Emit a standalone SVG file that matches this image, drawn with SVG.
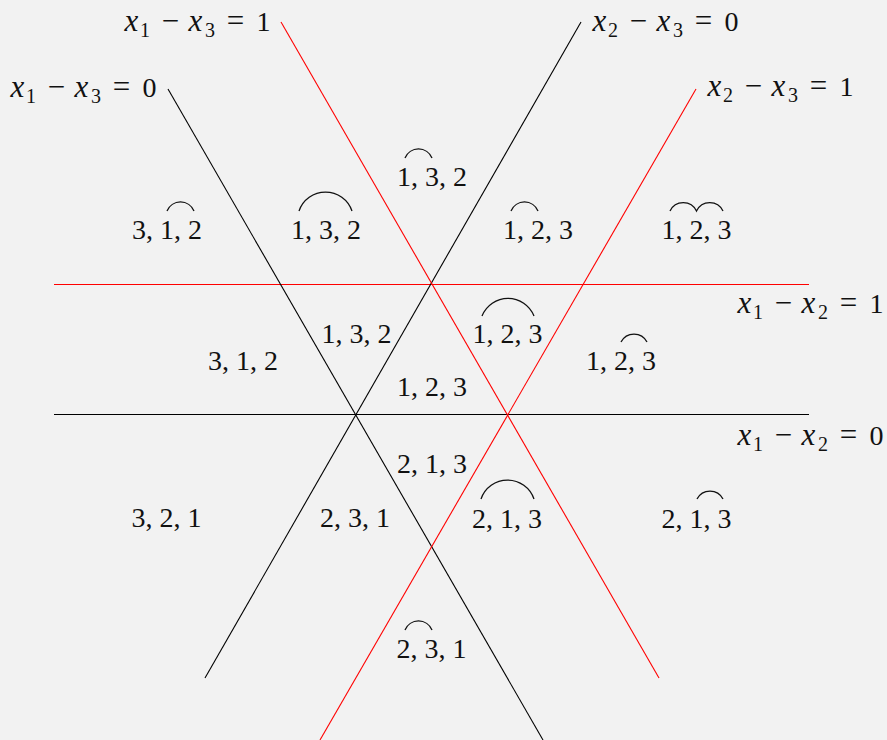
<svg xmlns="http://www.w3.org/2000/svg" width="887" height="740" viewBox="0 0 887 740">
<style>
.bg{fill:#f2f2f2}
.k{stroke:#000;stroke-width:1.1;fill:none}
.r{stroke:#ff0000;stroke-width:1.1;fill:none}
.lbl{font-size:28px;fill:#111;text-anchor:middle}
.eq{font-size:28px;fill:#111;text-anchor:middle}
.it{font-style:italic;font-size:31px}
.sub{font-size:20px}
.op{font-size:31px}
.arc{stroke:#111;stroke-width:1.3;fill:none}
</style>
<rect class="bg" x="0" y="0" width="887" height="740"/>
<g id="connectors">
<line id="l12_0" class="k" x1="54" y1="414.5" x2="809" y2="414.5"/>
<line id="l12_1" class="r" x1="54" y1="284.5" x2="809" y2="284.5"/>
<line id="l13_0" class="k" x1="168" y1="89" x2="543" y2="740"/>
<line id="l23_0" class="k" x1="581" y1="22" x2="205" y2="678"/>
<line id="l13_1" class="r" x1="281" y1="22" x2="659" y2="678"/>
<line id="l23_1" class="r" x1="696" y1="89" x2="320" y2="740"/>
</g>
<g font-family="Liberation Serif, serif">
<g id="eq13_1" transform="translate(124 31)"><text class="eq"><tspan class="it" x="7.5" y="0">x</tspan><tspan class="sub" x="21" y="6">1</tspan><tspan class="op" x="46.5" y="0">−</tspan><tspan class="it" x="71.5" y="0">x</tspan><tspan class="sub" x="86" y="6">3</tspan><tspan class="op" x="111.5" y="0">=</tspan><tspan x="139.5" y="0">1</tspan></text></g>
<g id="eq13_0" transform="translate(10 97)"><text class="eq"><tspan class="it" x="7.5" y="0">x</tspan><tspan class="sub" x="21" y="6">1</tspan><tspan class="op" x="46.5" y="0">−</tspan><tspan class="it" x="71.5" y="0">x</tspan><tspan class="sub" x="86" y="6">3</tspan><tspan class="op" x="111.5" y="0">=</tspan><tspan x="139.5" y="0">0</tspan></text></g>
<g id="eq23_0" transform="translate(592 31)"><text class="eq"><tspan class="it" x="7.5" y="0">x</tspan><tspan class="sub" x="21" y="6">2</tspan><tspan class="op" x="46.5" y="0">−</tspan><tspan class="it" x="71.5" y="0">x</tspan><tspan class="sub" x="86" y="6">3</tspan><tspan class="op" x="111.5" y="0">=</tspan><tspan x="139.5" y="0">0</tspan></text></g>
<g id="eq23_1" transform="translate(707 96)"><text class="eq"><tspan class="it" x="7.5" y="0">x</tspan><tspan class="sub" x="21" y="6">2</tspan><tspan class="op" x="46.5" y="0">−</tspan><tspan class="it" x="71.5" y="0">x</tspan><tspan class="sub" x="86" y="6">3</tspan><tspan class="op" x="111.5" y="0">=</tspan><tspan x="139.5" y="0">1</tspan></text></g>
<g id="eq12_1" transform="translate(737 313)"><text class="eq"><tspan class="it" x="7.5" y="0">x</tspan><tspan class="sub" x="21" y="6">1</tspan><tspan class="op" x="46.5" y="0">−</tspan><tspan class="it" x="71.5" y="0">x</tspan><tspan class="sub" x="86" y="6">2</tspan><tspan class="op" x="111.5" y="0">=</tspan><tspan x="139.5" y="0">1</tspan></text></g>
<g id="eq12_0" transform="translate(737 445)"><text class="eq"><tspan class="it" x="7.5" y="0">x</tspan><tspan class="sub" x="21" y="6">1</tspan><tspan class="op" x="46.5" y="0">−</tspan><tspan class="it" x="71.5" y="0">x</tspan><tspan class="sub" x="86" y="6">2</tspan><tspan class="op" x="111.5" y="0">=</tspan><tspan x="139.5" y="0">0</tspan></text></g>

<g id="n312a"><text class="lbl" x="167" y="239">3, 1, 2</text><path class="arc" d="M167 211 A14.6 14.6 0 0 1 194 211"/></g>
<g id="n132a"><text class="lbl" x="326" y="239">1, 3, 2</text><path class="arc" d="M299 211 A28 28 0 0 1 352 211"/></g>
<g id="n132b"><text class="lbl" x="432" y="186">1, 3, 2</text><path class="arc" d="M405 158 A14.6 14.6 0 0 1 432 158"/></g>
<g id="n123a"><text class="lbl" x="538" y="239">1, 2, 3</text><path class="arc" d="M511 211 A14.6 14.6 0 0 1 538 211"/></g>
<g id="n123b"><text class="lbl" x="696.5" y="239">1, 2, 3</text><path class="arc" d="M670 211 A14.6 14.6 0 0 1 696.5 211 A14.6 14.6 0 0 1 723 211"/></g>
<g id="n132c"><text class="lbl" x="356.5" y="343">1, 3, 2</text></g>
<g id="n312b"><text class="lbl" x="243" y="370">3, 1, 2</text></g>
<g id="n123c"><text class="lbl" x="432" y="396">1, 2, 3</text></g>
<g id="n123d"><text class="lbl" x="507.5" y="343">1, 2, 3</text><path class="arc" d="M482 316 A28 28 0 0 1 534 316"/></g>
<g id="n123e"><text class="lbl" x="621" y="370">1, 2, 3</text><path class="arc" d="M621 342 A14.6 14.6 0 0 1 647 342"/></g>
<g id="n213a"><text class="lbl" x="432" y="473">2, 1, 3</text></g>
<g id="n321"><text class="lbl" x="166.5" y="527">3, 2, 1</text></g>
<g id="n231a"><text class="lbl" x="355" y="527">2, 3, 1</text></g>
<g id="n213b"><text class="lbl" x="507" y="528">2, 1, 3</text><path class="arc" d="M481 499 A28 28 0 0 1 534 499"/></g>
<g id="n213c"><text class="lbl" x="696.5" y="528">2, 1, 3</text><path class="arc" d="M697 499 A14.6 14.6 0 0 1 723 499"/></g>
<g id="n231b"><text class="lbl" x="431.5" y="658">2, 3, 1</text><path class="arc" d="M405 630 A14.6 14.6 0 0 1 432 630"/></g>
</g>
</svg>
